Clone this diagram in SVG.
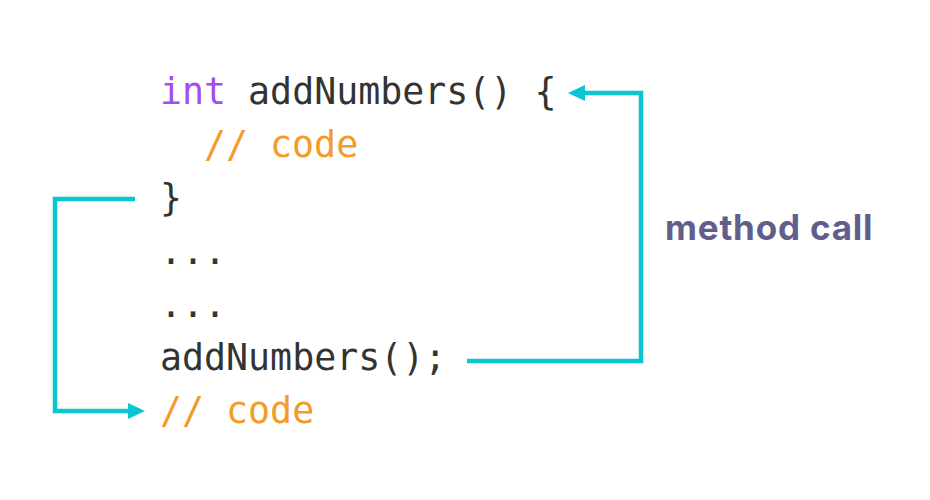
<svg xmlns="http://www.w3.org/2000/svg" width="930" height="500" viewBox="0 0 930 500">
<defs>
<style>
.code{font-family:"DejaVu Sans Mono","Liberation Mono",monospace;font-size:36.6px;fill:#333333}
.kw{fill:#A34EEF}
.cm{fill:#F39A2B}
.lbl{font-family:"Inter","Noto Sans",sans-serif;font-weight:700;font-size:35px;letter-spacing:0.8px;fill:#625E8C}
.conn{fill:none;stroke:#0BC5D0;stroke-width:4.5;stroke-linejoin:miter}
</style>
<marker id="ah" markerWidth="17" markerHeight="16" refX="5" refY="8" orient="auto" markerUnits="userSpaceOnUse">
<path d="M0,0 L17,8 L0,16 Z" fill="#0BC5D0"/>
</marker>
</defs>
<rect width="930" height="500" fill="#ffffff"/>
<g id="code">
<text class="code" x="160" y="104"><tspan class="kw">int</tspan> addNumbers() {</text>
<text class="code cm" x="204" y="157">// code</text>
<text class="code" x="160" y="210">}</text>
<text class="code" x="160" y="264">...</text>
<text class="code" x="160" y="317">...</text>
<text class="code" x="160" y="370">addNumbers();</text>
<text class="code cm" x="160" y="423">// code</text>
</g>
<g id="label">
<text class="lbl" x="665" y="240">method call</text>
</g>
<g id="connectors">
<path class="conn" d="M467,361 H641 V93 H580" marker-end="url(#ah)"/>
<path class="conn" d="M135,199 H55 V411 H133" marker-end="url(#ah)"/>
</g>
</svg>
